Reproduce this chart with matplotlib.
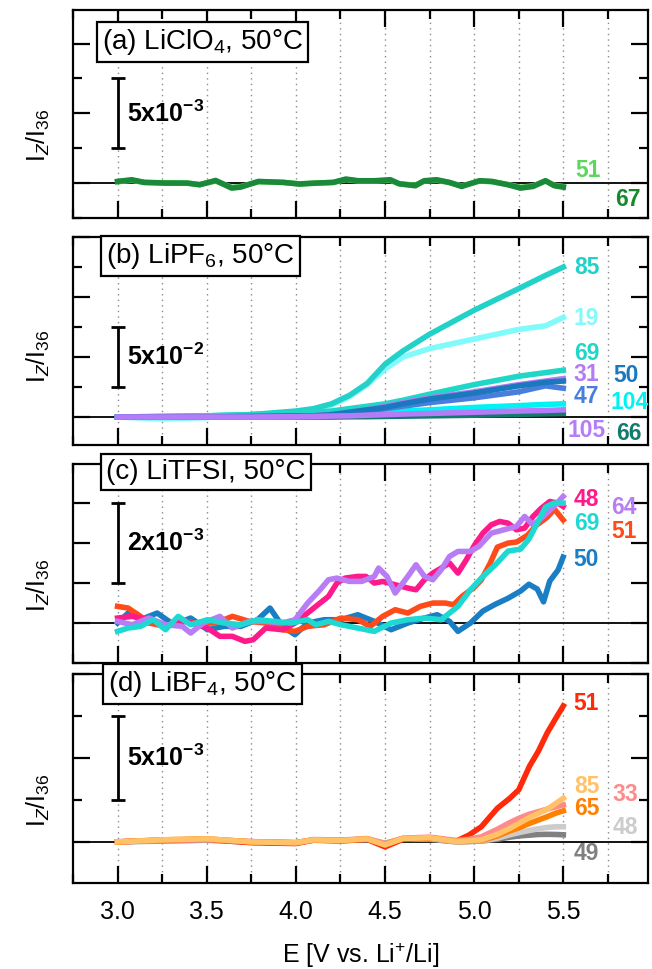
import numpy as np
import matplotlib
matplotlib.use("Agg")
import matplotlib.pyplot as plt
from matplotlib.ticker import MultipleLocator

plt.rcParams['font.family'] = ['Liberation Sans', 'DejaVu Sans']
plt.rcParams['mathtext.fontset'] = 'custom'
plt.rcParams['mathtext.rm'] = 'Liberation Sans'
plt.rcParams['mathtext.it'] = 'Liberation Sans:italic'
plt.rcParams['mathtext.bf'] = 'Liberation Sans:bold'

# ---------------- (a) LiClO4 ----------------
a_E = [3.00, 3.08, 3.15, 3.27, 3.39, 3.46, 3.55, 3.64, 3.69, 3.79, 3.93, 4.02,
       4.11, 4.21, 4.28, 4.35, 4.44, 4.53, 4.58, 4.67, 4.72, 4.79, 4.86, 4.93,
       5.03, 5.10, 5.19, 5.26, 5.33, 5.40, 5.45, 5.50]
a_67 = [0.12, 0.24, 0.05, 0.00, 0.00, -0.12, 0.19, -0.36, -0.29, 0.12, 0.05, -0.07,
        0.00, 0.05, 0.29, 0.17, 0.17, 0.24, -0.05, -0.19, 0.17, 0.24, 0.05, -0.24,
        0.17, 0.12, -0.12, -0.36, -0.24, 0.17, -0.19, -0.29]
a_51 = [0.10, 0.20, 0.05, 0.02, 0.00, -0.10, 0.15, -0.30, -0.25, 0.10, 0.05, -0.05,
        0.00, 0.05, 0.25, 0.15, 0.15, 0.20, -0.05, -0.15, 0.15, 0.20, 0.05, -0.20,
        0.15, 0.10, -0.10, -0.30, -0.20, 0.15, -0.15, -0.25]

# ---------------- (b) LiPF6 ----------------
b_E = [3.00, 3.25, 3.50, 3.75, 4.00, 4.10, 4.20, 4.30, 4.40, 4.50, 4.60, 4.75,
       5.00, 5.25, 5.40, 5.50]
b_85 = [0, 0.0005, 0.001, 0.002, 0.005, 0.007, 0.011, 0.018, 0.028, 0.044, 0.055,
        0.069, 0.089, 0.107, 0.118, 0.125]
b_19 = [0, -0.0015, -0.0005, 0.002, 0.004, 0.006, 0.010, 0.017, 0.027, 0.040, 0.050,
        0.057, 0.065, 0.073, 0.076, 0.083]
b_69 = [0, 0.0005, 0.001, 0.002, 0.003, 0.004, 0.005, 0.007, 0.009, 0.011, 0.014,
        0.019, 0.027, 0.034, 0.037, 0.039]
b_50 = [0, 0, 0, 0.0005, 0.001, 0.001, 0.002, 0.004, 0.006, 0.008, 0.011, 0.015,
        0.020, 0.026, 0.029, 0.030]
b_31 = [0, 0, 0, 0.0005, 0.001, 0.001, 0.002, 0.004, 0.006, 0.009, 0.012, 0.016,
        0.021, 0.027, 0.030, 0.032]
b_47 = [0, 0, 0, 0, 0.0005, 0.001, 0.002, 0.003, 0.005, 0.007, 0.009, 0.012,
        0.016, 0.021, 0.026, 0.024]
b_104 = [0, 0, 0, 0, 0.0005, 0.001, 0.0015, 0.002, 0.003, 0.004, 0.005, 0.006,
         0.008, 0.0095, 0.0105, 0.011]
b_105 = [0, 0, 0, 0, 0.0003, 0.0005, 0.0008, 0.001, 0.0015, 0.002, 0.0025, 0.003,
         0.004, 0.005, 0.0055, 0.006]
b_66 = [0, 0, 0, 0, 0, 0, 0, 0.0002, 0.0003, 0.0005, 0.0007, 0.001,
        0.0015, 0.0022, 0.0027, 0.003]

# ---------------- (c) LiTFSI ----------------
c48_E = [3.000, 3.082, 3.176, 3.269, 3.386, 3.504, 3.574, 3.644, 3.714, 3.761, 3.831,
         3.925, 3.995, 4.042, 4.112, 4.183, 4.230, 4.276, 4.347, 4.393, 4.440, 4.487,
         4.557, 4.628, 4.674, 4.721, 4.768, 4.815, 4.862, 4.909, 4.956, 5.002, 5.049,
         5.096, 5.143, 5.190, 5.237, 5.283, 5.330, 5.377, 5.424, 5.471, 5.499]
c48_v = [0.125, 0.167, 0.083, -0.042, 0.042, -0.125, -0.333, -0.333, -0.458, -0.417,
         -0.125, -0.167, 0.0, 0.167, 0.417, 0.667, 1.0, 1.125, 1.167, 1.167, 1.0, 1.042,
         0.958, 0.875, 0.833, 1.083, 1.25, 1.375, 1.5, 1.25, 1.583, 1.95, 2.25, 2.458,
         2.542, 2.5, 2.333, 2.375, 2.667, 2.875, 3.042, 3.0, 2.917]
c64_E = [3.000, 3.082, 3.176, 3.269, 3.363, 3.410, 3.480, 3.574, 3.644, 3.738, 3.831,
         3.925, 3.995, 4.066, 4.136, 4.183, 4.230, 4.300, 4.370, 4.440, 4.464, 4.511,
         4.557, 4.628, 4.674, 4.721, 4.768, 4.815, 4.862, 4.909, 4.979, 5.026, 5.096,
         5.166, 5.237, 5.283, 5.330, 5.377, 5.447, 5.499]
c64_v = [0.042, -0.042, 0.125, -0.042, -0.083, -0.25, 0.0, 0.167, -0.125, 0.042, 0.042,
         0.0, 0.083, 0.5, 0.833, 1.083, 1.125, 1.042, 1.042, 1.167, 1.375, 1.167, 0.75,
         1.167, 1.458, 1.167, 1.083, 1.333, 1.667, 1.792, 1.792, 1.917, 2.25, 2.333,
         2.417, 2.667, 2.458, 2.625, 2.917, 3.167]
c51_E = [3.000, 3.059, 3.129, 3.176, 3.269, 3.340, 3.433, 3.550, 3.644, 3.738, 3.831,
         3.925, 3.995, 4.066, 4.159, 4.253, 4.347, 4.417, 4.487, 4.557, 4.628, 4.698,
         4.768, 4.838, 4.885, 4.932, 5.002, 5.040, 5.090, 5.130, 5.190, 5.240, 5.300,
         5.350, 5.410, 5.450, 5.499]
c51_v = [0.417, 0.375, 0.167, 0.0, -0.083, 0.083, 0.0, 0.0, 0.167, 0.042, 0.0, -0.167,
         -0.208, -0.083, -0.042, 0.125, 0.083, -0.083, 0.167, 0.333, 0.25, 0.417, 0.5,
         0.5, 0.458, 0.667, 0.9, 1.08, 1.5, 1.9, 2.0, 2.03, 2.2, 2.45, 2.65, 2.85, 2.58]
c69_E = [3.000, 3.059, 3.129, 3.199, 3.269, 3.340, 3.410, 3.504, 3.597, 3.691, 3.785,
         3.878, 3.972, 4.066, 4.112, 4.183, 4.253, 4.347, 4.440, 4.534, 4.628, 4.721,
         4.815, 4.862, 4.909, 4.979, 5.049, 5.119, 5.190, 5.260, 5.307, 5.354, 5.400,
         5.447, 5.499]
c69_v = [-0.208, -0.125, -0.083, 0.083, -0.167, 0.167, -0.042, 0.083, 0.0, -0.042,
         0.083, 0.042, 0.0, 0.083, -0.042, 0.042, -0.042, -0.125, -0.208, 0.0, 0.083,
         0.125, 0.083, 0.25, 0.417, 0.833, 1.167, 1.458, 1.8, 1.85, 2.1, 2.5, 2.9,
         3.0, 3.0]
c50_E = [3.000, 3.059, 3.129, 3.222, 3.316, 3.410, 3.504, 3.597, 3.691, 3.785, 3.855,
         3.925, 3.995, 4.066, 4.159, 4.253, 4.347, 4.440, 4.534, 4.628, 4.721, 4.792,
         4.862, 4.909, 4.979, 5.049, 5.119, 5.190, 5.260, 5.307, 5.354, 5.389, 5.424,
         5.471, 5.499]
c50_v = [0.0, 0.25, 0.083, 0.25, -0.042, 0.125, -0.167, -0.083, -0.083, 0.083, 0.375,
         -0.083, -0.292, 0.0, 0.083, 0.083, 0.208, 0.042, -0.167, 0.0, 0.125, 0.208,
         0.042, -0.208, 0.0, 0.3, 0.47, 0.62, 0.8, 0.97, 0.85, 0.53, 1.05, 1.33, 1.65]

# ---------------- (d) LiBF4 ----------------
d_E = [3.00, 3.25, 3.50, 3.75, 4.00, 4.10, 4.25, 4.40, 4.50, 4.60, 4.75, 4.90,
       4.97, 5.04, 5.13, 5.20, 5.25, 5.31, 5.36, 5.41, 5.46, 5.50]
d_51 = [0.0, 0.10, 0.15, -0.05, -0.10, 0.10, 0.05, 0.15, -0.30, 0.15, 0.25, 0.05,
        0.40, 0.90, 2.00, 2.60, 3.10, 4.50, 5.40, 6.50, 7.40, 8.10]
d_85 = [0.0, 0.12, 0.18, 0.0, -0.05, 0.12, 0.08, 0.18, -0.18, 0.20, 0.25, 0.02,
        0.06, 0.12, 0.45, 0.80, 1.10, 1.45, 1.70, 1.95, 2.30, 2.60]
d_65 = [0.0, 0.12, 0.18, 0.0, -0.05, 0.12, 0.08, 0.18, -0.18, 0.20, 0.25, 0.02,
        0.03, 0.08, 0.35, 0.65, 0.83, 1.10, 1.30, 1.50, 1.72, 1.85]
d_33 = [0.0, 0.10, 0.15, 0.02, -0.05, 0.12, 0.10, 0.20, -0.10, 0.22, 0.28, 0.08,
        0.15, 0.30, 0.75, 1.15, 1.40, 1.65, 1.80, 1.95, 2.10, 2.20]
d_48 = [0.0, 0.08, 0.12, 0.0, -0.05, 0.15, 0.10, 0.15, -0.10, 0.18, 0.20, 0.02,
        0.03, 0.06, 0.22, 0.42, 0.55, 0.68, 0.78, 0.86, 0.90, 0.90]
d_49 = [0.0, 0.05, 0.10, -0.02, -0.05, 0.12, 0.10, 0.12, -0.08, 0.15, 0.15, 0.0,
        0.02, 0.05, 0.15, 0.28, 0.35, 0.40, 0.44, 0.45, 0.44, 0.42]

# ---------------- figure ----------------
W, H = 652, 969
fig = plt.figure(figsize=(W / 100, H / 100), dpi=100)


def px_rect(left, top, right, bottom):
    return [left / W, 1 - bottom / H, (right - left) / W, (bottom - top) / H]


def fx(x):
    return x / W


def fy(y):
    return 1 - y / H


XL = (2.75, 5.975)
LW = 4.0

panels = [
    dict(rect=(73, 10, 648, 218), ylim=(-2.5e-3, 12.4e-3), major=5e-3, minor=2.5e-3,
         bar=(2.5e-3, 7.5e-3), bartxt=r'$\mathbf{5x10^{-3}}$',
         title=r'(a) LiClO$_4$, 50°C', title_xy=(102, 42), ylab_y=135),
    dict(rect=(73, 237, 648, 445), ylim=(-0.0233, 0.15), major=0.05, minor=0.025,
         bar=(0.025, 0.075), bartxt=r'$\mathbf{5x10^{-2}}$',
         title=r'(b) LiPF$_6$, 50°C', title_xy=(106, 256), ylab_y=356),
    dict(rect=(73, 464, 648, 663), ylim=(-1.0e-3, 3.98e-3), major=1e-3, minor=1e-3,
         bar=(1e-3, 3e-3), bartxt=r'$\mathbf{2x10^{-3}}$',
         title='(c) LiTFSI, 50°C', title_xy=(106, 472), ylab_y=585),
    dict(rect=(73, 674, 648, 883), ylim=(-2.45e-3, 10e-3), major=5e-3, minor=2.5e-3,
         bar=(2.5e-3, 7.5e-3), bartxt=r'$\mathbf{5x10^{-3}}$',
         title=r'(d) LiBF$_4$, 50°C', title_xy=(108, 684), ylab_y=800),
]

axes = []
for i, p in enumerate(panels):
    ax = fig.add_axes(px_rect(*p['rect']))
    axes.append(ax)
    ax.set_xlim(*XL)
    ax.set_ylim(*p['ylim'])
    for s in ax.spines.values():
        s.set_linewidth(1.6)
    ax.xaxis.set_major_locator(MultipleLocator(0.5))
    ax.xaxis.set_minor_locator(MultipleLocator(0.25))
    ax.yaxis.set_major_locator(MultipleLocator(p['major']))
    ax.yaxis.set_minor_locator(MultipleLocator(p['minor']))
    ax.tick_params(which='both', direction='in', top=True, right=True, width=1.6)
    ax.tick_params(which='major', length=12)
    ax.tick_params(which='minor', length=6.5)
    ax.tick_params(axis='y', labelleft=False)
    ax.tick_params(axis='x', labelbottom=(i == 3), labelsize=18, pad=12)
    for e in np.arange(3.0, 5.76, 0.25):
        ax.axvline(e, color='#8a8a8a', lw=1.0, ls=(0, (1, 3)), zorder=0)
    ax.axhline(0, color='black', lw=1.3, zorder=1)
    lo, hi = p['bar']
    ax.errorbar([3.0], [(lo + hi) / 2], yerr=[(hi - lo) / 2], color='black',
                lw=2.0, capsize=5, capthick=2.0, zorder=5)
    ax.text(3.055, (lo + hi) / 2, p['bartxt'], fontsize=18, ha='left', va='center')
    fig.text(fx(p['title_xy'][0]), fy(p['title_xy'][1]), p['title'], fontsize=20,
             ha='left', va='center', zorder=10,
             bbox=dict(boxstyle='square,pad=0.18', fc='white', ec='black', lw=1.6))
    fig.text(fx(38), fy(p['ylab_y']), r'I$_Z$/I$_{36}$', fontsize=18, rotation=90,
             ha='center', va='center')

k = 1e-3
ax = axes[0]
ax.plot(a_E, np.array(a_51) * k, color='#5cd65c', lw=LW, zorder=3)
ax.plot(a_E, np.array(a_67) * k, color='#1a8a3a', lw=LW, zorder=3)

ax = axes[1]
for v, c in [(b_66, '#137a6e'), (b_104, '#00f2f2'), (b_19, '#80fafa'),
             (b_85, '#22d2c8'), (b_69, '#20d6c6'), (b_47, '#4a7edc'),
             (b_31, '#b57bf5'), (b_50, '#1a78be'), (b_105, '#b57cf7')]:
    ax.plot(b_E, v, color=c, lw=LW, zorder=3)

ax = axes[2]
for E, v, c in [(c50_E, c50_v, '#1a7ec4'), (c51_E, c51_v, '#ff4a1a'),
                (c48_E, c48_v, '#ff1a8c'), (c64_E, c64_v, '#b87cf5'),
                (c69_E, c69_v, '#1ed8d2')]:
    ax.plot(E, np.array(v) * k, color=c, lw=LW, zorder=3)

ax = axes[3]
for v, c in [(d_49, '#808080'), (d_48, '#cccccc'), (d_51, '#ff2a0a'),
             (d_33, '#ff8a8a'), (d_65, '#ff8000'), (d_85, '#ffc266')]:
    ax.plot(d_E, np.array(v) * k, color=c, lw=LW, zorder=3)

axes[3].set_xlabel(r'E [V vs. Li$^{+}$/Li]', fontsize=18, labelpad=12)

# curve labels at the right of each panel
labels = [
    (0, '51', '#5cd65c', 5.64, 0.93e-3), (0, '67', '#158a2a', 5.86, -1.2e-3),
    (1, '85', '#22d2c8', 5.63, 0.125), (1, '19', '#80fafa', 5.63, 0.0825),
    (1, '69', '#20d6c6', 5.63, 0.053), (1, '31', '#b57bf5', 5.63, 0.0355),
    (1, '50', '#1a78be', 5.85, 0.035), (1, '47', '#4a7edc', 5.63, 0.0175),
    (1, '104', '#00f2f2', 5.87, 0.0117), (1, '105', '#b57cf7', 5.63, -0.011),
    (1, '66', '#137a6e', 5.87, -0.014),
    (2, '48', '#ff1a8c', 5.63, 3.08e-3), (2, '64', '#b87cf5', 5.84, 2.9e-3),
    (2, '69', '#1ed8d2', 5.63, 2.5e-3), (2, '51', '#ff4a1a', 5.84, 2.3e-3),
    (2, '50', '#1a7ec4', 5.63, 1.58e-3),
    (3, '51', '#ff2a0a', 5.63, 8.27e-3), (3, '85', '#ffc266', 5.63, 3.3e-3),
    (3, '65', '#ff8000', 5.63, 2.0e-3), (3, '33', '#ff8a8a', 5.85, 2.8e-3),
    (3, '48', '#cccccc', 5.85, 0.83e-3), (3, '49', '#808080', 5.63, -0.71e-3),
]
for i, t, c, x, y in labels:
    axes[i].text(x, y, t, color=c, fontsize=16.5, fontweight='bold',
                 ha='center', va='center', zorder=6)

fig.savefig('out.png', dpi=100)
